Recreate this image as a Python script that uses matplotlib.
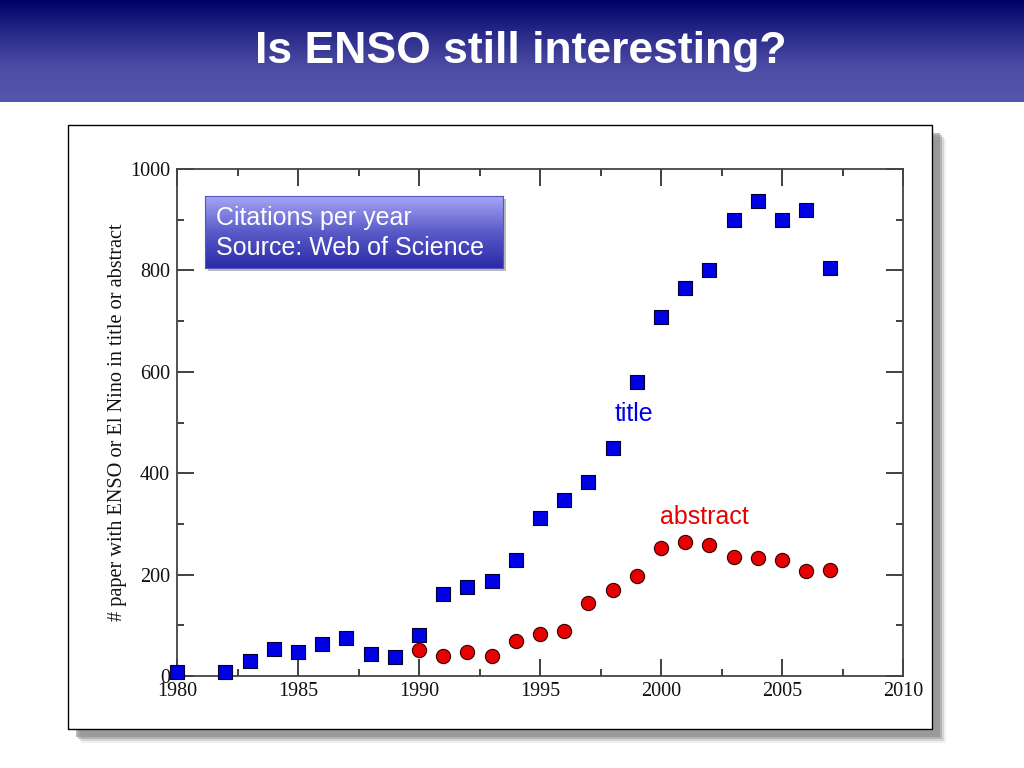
import numpy as np
import matplotlib
matplotlib.use("Agg")
import matplotlib.pyplot as plt
from matplotlib.patches import Rectangle
from matplotlib.ticker import MultipleLocator
from matplotlib.colors import LinearSegmentedColormap

# ---------------- data ----------------
title_years = [1980, 1982, 1983, 1984, 1985, 1986, 1987, 1988, 1989, 1990,
               1991, 1992, 1993, 1994, 1995, 1996, 1997, 1998, 1999, 2000,
               2001, 2002, 2003, 2004, 2005, 2006, 2007]
title_counts = [8, 8, 30, 53, 47, 63, 75, 43, 37, 81,
                162, 176, 187, 229, 312, 347, 383, 450, 580, 708,
                765, 801, 899, 937, 899, 919, 805]
abstract_years = [1990, 1991, 1992, 1993, 1994, 1995, 1996, 1997, 1998, 1999,
                  2000, 2001, 2002, 2003, 2004, 2005, 2006, 2007]
abstract_counts = [51, 39, 47, 39, 69, 83, 89, 144, 170, 197,
                   252, 264, 258, 235, 233, 229, 207, 209]
x_ticks = [1980, 1985, 1990, 1995, 2000, 2005, 2010]
y_ticks = [0, 200, 400, 600, 800, 1000]
slide_title = "Is ENSO still interesting?"
y_label = "# paper with ENSO or El Nino in title or abstract"
box_lines = ["Citations per year", "Source: Web of Science"]

W, H = 1024, 768
fig = plt.figure(figsize=(W / 100, H / 100), dpi=100)
fig.patch.set_facecolor("white")

def fx(px):
    return px / W

def fy(py):
    return 1 - py / H

# ---------------- header bar ----------------
hdr = fig.add_axes([0, fy(102), 1, 102 / H])
hdr_cmap = LinearSegmentedColormap.from_list("hdr", ["#000066", "#2a2a8a", "#4d4da6", "#5656ac"])
hdr.imshow(np.linspace(0, 1, 256).reshape(-1, 1), aspect="auto", cmap=hdr_cmap,
           extent=[0, 1, 0, 1])
hdr.set_axis_off()
fig.text(0.509, fy(51), slide_title, ha="center", va="center", color="white",
         fontsize=32, fontweight="bold", family="Liberation Sans")

# ---------------- panel with shadow ----------------
px0, py0, px1, py1 = 68, 125, 932, 729
for off, a in [(14, 0.12), (12, 0.25), (10, 0.45), (8, 0.6)]:
    fig.patches.append(Rectangle((fx(px0 + off), fy(py1 + off)), fx(px1 - px0), (py1 - py0) / H,
                                 transform=fig.transFigure, facecolor="#8a8a8a",
                                 edgecolor="none", alpha=a, zorder=0))
fig.patches.append(Rectangle((fx(px0), fy(py1)), fx(px1 - px0), (py1 - py0) / H,
                             transform=fig.transFigure, facecolor="white",
                             edgecolor="black", linewidth=1.0, zorder=1))

# ---------------- main axes ----------------
ax = fig.add_axes([fx(177), fy(676), fx(903 - 177), (676 - 169) / H])
ax.set_zorder(2)
ax.patch.set_alpha(0)
ax.scatter(title_years, title_counts, marker="s", s=100, c="#0000e6",
           edgecolors="#000033", linewidths=0.8, zorder=3, clip_on=False)
ax.scatter(abstract_years, abstract_counts, marker="o", s=105, c="#e60000",
           edgecolors="#330000", linewidths=0.8, zorder=3, clip_on=False)
ax.set_xlim(1980, 2010)
ax.set_ylim(0, 1000)
ax.set_xticks(x_ticks)
ax.set_yticks(y_ticks)
ax.xaxis.set_minor_locator(MultipleLocator(2.5))
ax.yaxis.set_minor_locator(MultipleLocator(100))
ax.tick_params(which="both", direction="in", top=True, right=True,
               color="#333333", width=1.3)
ax.tick_params(which="major", length=12, labelsize=14.5)
ax.tick_params(axis="x", which="major", pad=4)
ax.tick_params(axis="y", which="major", pad=5)
ax.tick_params(which="minor", length=5)
for lab in ax.get_xticklabels() + ax.get_yticklabels():
    lab.set_family("Liberation Serif")
    lab.set_color("#111111")
for sp in ax.spines.values():
    sp.set_color("#444444")
    sp.set_linewidth(1.3)
ax.set_ylabel(y_label, family="Liberation Serif", fontsize=14.6, color="#111111")
ax.yaxis.set_label_coords((127 - 177) / (903 - 177), (676 - 422) / (676 - 169))

ax.text(1998.9, 517, "title", color="#0000e6", fontsize=18, family="Liberation Sans",
        ha="center", va="center")
ax.text(2001.8, 314, "abstract", color="#e60000", fontsize=18, family="Liberation Sans",
        ha="center", va="center")

# ---------------- info box ----------------
bx0, by0, bx1, by1 = 205, 196, 503, 268
fig.patches.append(Rectangle((fx(bx0 + 3), fy(by1 + 3)), fx(bx1 - bx0), (by1 - by0) / H,
                             transform=fig.transFigure, facecolor="#7a7a7a",
                             edgecolor="none", alpha=0.5, zorder=4))
bax = fig.add_axes([fx(bx0), fy(by1), fx(bx1 - bx0), (by1 - by0) / H])
bax.set_zorder(5)
box_cmap = LinearSegmentedColormap.from_list("box", ["#2a2aa8", "#5a5ac8", "#a6a6f6"])
bax.imshow(np.linspace(0, 1, 256).reshape(-1, 1)[::-1], aspect="auto", cmap=box_cmap,
           extent=[0, 1, 0, 1])
bax.set_xticks([])
bax.set_yticks([])
for sp in bax.spines.values():
    sp.set_color("#5555bb")
    sp.set_linewidth(0.8)
bax.text(0.037, 0.70, box_lines[0], color="white", fontsize=18, family="Liberation Sans",
         ha="left", va="center", transform=bax.transAxes)
bax.text(0.037, 0.28, box_lines[1], color="white", fontsize=18, family="Liberation Sans",
         ha="left", va="center", transform=bax.transAxes)

fig.savefig("out.png", dpi=100)
